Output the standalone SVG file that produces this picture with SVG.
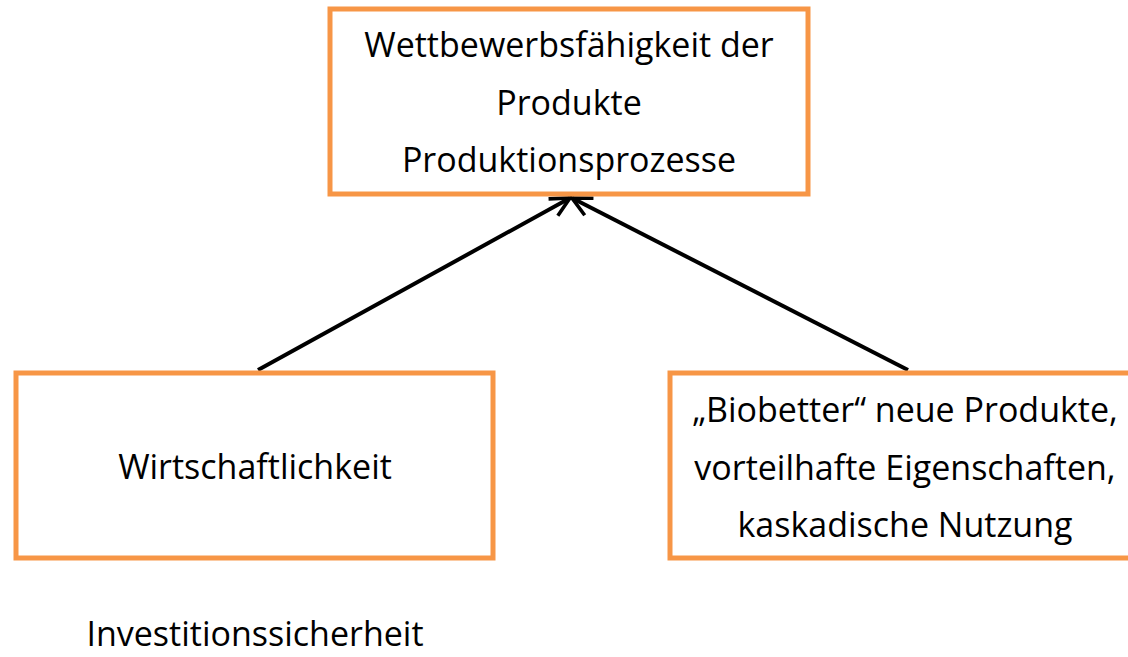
<svg xmlns="http://www.w3.org/2000/svg" width="1128" height="657" viewBox="0 0 1128 657">
<style>
.box{fill:#fff;stroke:#F79646;stroke-width:5}
.t{font-family:"Open Sans","Noto Sans",sans-serif;font-size:34px;fill:#000;text-anchor:middle}
.c{stroke:#000;stroke-width:4;fill:none}
</style>
<defs>
<marker id="ah" viewBox="0 0 20 20" refX="18" refY="10" markerWidth="6" markerHeight="6" markerUnits="strokeWidth" orient="auto">
<path d="M2,2 L18,10 L2,18" fill="none" stroke="#000" stroke-width="3"/>
</marker>
</defs>
<rect width="1128" height="657" fill="#fff"/>
<g id="connectors">
<line class="c" x1="258" y1="370" x2="570" y2="198" marker-end="url(#ah)"/>
<line class="c" x1="908" y1="370" x2="572" y2="198" marker-end="url(#ah)"/>
</g>
<g id="top">
<rect class="box" x="330" y="9" width="478" height="185"/>
<text class="t" x="569" y="57">Wettbewerbsfähigkeit der</text>
<text class="t" x="569" y="115">Produkte</text>
<text class="t" x="569" y="172">Produktionsprozesse</text>
</g>
<g id="left">
<rect class="box" x="16" y="373" width="477" height="185"/>
<text class="t" x="255" y="479">Wirtschaftlichkeit</text>
</g>
<g id="right">
<rect class="box" x="670" y="373" width="470" height="185"/>
<text class="t" x="905" y="422">„Biobetter“ neue Produkte,</text>
<text class="t" x="905" y="480">vorteilhafte Eigenschaften,</text>
<text class="t" x="905" y="537">kaskadische Nutzung</text>
</g>
<g id="note">
<text class="t" x="255" y="646">Investitionssicherheit</text>
</g>
</svg>
